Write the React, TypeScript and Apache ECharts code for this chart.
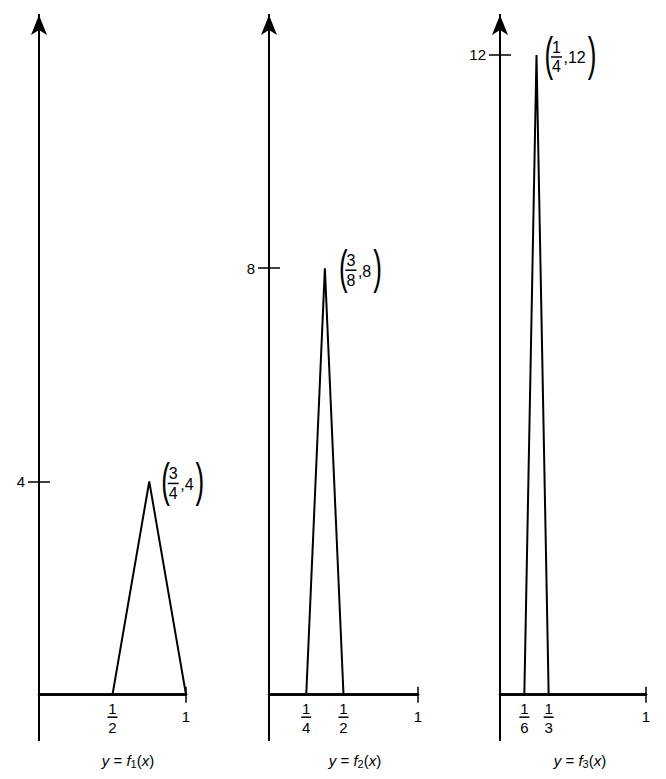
import React, { useEffect, useRef } from "react";
import * as echarts from "echarts";

// ---- data ----
const f1X = [0, 1 / 2, 3 / 4, 1];
const f1Y = [0, 0, 4, 0];
const f2X = [0, 1 / 4, 3 / 8, 1 / 2, 1];
const f2Y = [0, 0, 8, 0, 0];
const f3X = [0, 1 / 6, 1 / 4, 1 / 3, 1];
const f3Y = [0, 0, 12, 0, 0];

const yTickValues = [4, 8, 12];
const xEndTick = [1];
const xFractions1 = [[1, 2]];
const xFractions2 = [[1, 4], [1, 2]];
const xFractions3 = [[1, 6], [1, 3]];
const peakNumerators = ["3", "3", "1"];
const peakDenominators = ["4", "8", "4"];
const peakValueLabels = ["4", "8", "12"];
const captionIndices = ["1", "2", "3"];

const seriesX = [f1X, f2X, f3X];
const seriesY = [f1Y, f2Y, f3Y];
const xFractions = [xFractions1, xFractions2, xFractions3];

// ---- layout ----
const PANELS = [
  { left: 39, width: 147, annDx: 12, capX: 128 },
  { left: 269, width: 149, annDx: 14, capX: 355 },
  { left: 500, width: 146, annDx: 8, capX: 580 },
];
const GRID_TOP = 15;
const GRID_HEIGHT = 725;
const Y_MIN = -0.85;
const Y_MAX = 12.75;
const FONT = '"Liberation Sans", Arial, sans-serif';
const FS = 15;
const AFS = 16;

export default function App() {
  const ref = useRef<HTMLDivElement>(null);

  useEffect(() => {
    if (!ref.current) return;
    const chart = echarts.init(ref.current, undefined, { renderer: "svg" });

    const grid = PANELS.map((p) => ({
      left: p.left,
      width: p.width,
      top: GRID_TOP,
      height: GRID_HEIGHT,
      outerBoundsMode: "none",
    }));

    const xAxis: any[] = [];
    const yAxis: any[] = [];
    PANELS.forEach((_, i) => {
      const lineStyle = { color: "#000", width: 2 };
      const xLineStyle = { color: "#000", width: 2.5 };
      const tickStyle = { color: "#000", width: 1.5 };
      const lab = { color: "#000", fontSize: FS, fontFamily: FONT };
      xAxis.push({
        type: "value",
        gridIndex: i,
        min: 0,
        max: 1,
        position: "bottom",
        axisLine: { show: true, onZero: true, onZeroAxisIndex: 2 * i, lineStyle: xLineStyle },
        axisTick: { show: true, customValues: xEndTick, length: 8, lineStyle: tickStyle },
        axisLabel: { show: false },
        splitLine: { show: false },
      });
      xAxis.push({
        type: "value",
        gridIndex: i,
        min: 0,
        max: 1,
        position: "top",
        axisLine: { show: true, onZero: true, onZeroAxisIndex: 2 * i, lineStyle: xLineStyle },
        axisTick: { show: true, customValues: xEndTick, length: 8, lineStyle: tickStyle },
        axisLabel: { show: false },
        splitLine: { show: false },
      });
      yAxis.push({
        type: "value",
        gridIndex: i,
        min: Y_MIN,
        max: Y_MAX,
        position: "left",
        axisLine: {
          show: true,
          onZero: true,
          onZeroAxisIndex: 2 * i,
          symbol: ["none", "arrow"],
          symbolSize: [12, 20],
          lineStyle,
        },
        axisTick: { show: true, customValues: [yTickValues[i]], length: 11, lineStyle: tickStyle },
        axisLabel: { show: true, customValues: [yTickValues[i]], margin: 14, ...lab },
        splitLine: { show: false },
      });
      yAxis.push({
        type: "value",
        gridIndex: i,
        min: Y_MIN,
        max: Y_MAX,
        position: "right",
        axisLine: { show: true, onZero: true, onZeroAxisIndex: 2 * i, lineStyle },
        axisTick: { show: true, customValues: [yTickValues[i]], length: 11, lineStyle: tickStyle },
        axisLabel: { show: false },
        splitLine: { show: false },
      });
    });

    const series = PANELS.map((_, i) => ({
      type: "line",
      xAxisIndex: 2 * i,
      yAxisIndex: 2 * i,
      data: seriesX[i].map((x, k) => [x, seriesY[i][k]]),
      showSymbol: false,
      symbol: "none",
      clip: false,
      lineStyle: { color: "#000", width: 2 },
      z: 5,
    }));

    chart.setOption({
      animation: false,
      backgroundColor: "#fff",
      grid,
      xAxis,
      yAxis,
      series,
    });

    const canvas = document.createElement("canvas");
    const ctx = canvas.getContext("2d")!;
    ctx.font = `${AFS}px "Liberation Sans"`;

    const graphics: any[] = [];
    const txt = (x: number, y: number, text: string, align = "center", extra: any = {}) => ({
      type: "text",
      x,
      y,
      silent: true,
      ...extra.el,
      style: {
        text,
        fill: "#000",
        fontSize: FS,
        fontFamily: FONT,
        textAlign: align,
        textVerticalAlign: "middle",
        ...extra.style,
      },
    });
    const line = (x1: number, y1: number, x2: number, y2: number) => ({
      type: "line",
      silent: true,
      shape: { x1, y1, x2, y2 },
      style: { stroke: "#000", lineWidth: 1.5 },
    });
    const paren = (x: number, y: number, ch: string) =>
      txt(x, y, ch, "left", {
        el: { scaleY: 1.75 },
        style: { fontSize: 26 },
      });
    const aTxt = (x: number, y: number, text: string, align = "center") =>
      txt(x, y, text, align, { style: { fontSize: AFS } });

    PANELS.forEach((p, i) => {
      const finder = { xAxisIndex: 2 * i, yAxisIndex: 2 * i };
      const axisY = (chart.convertToPixel(finder, [0, 0]) as number[])[1];
      // x-axis end label
      xEndTick.forEach((v) => {
        const cx = (chart.convertToPixel(finder, [v, 0]) as number[])[0];
        graphics.push(txt(cx, axisY + 22, String(v)));
      });
      // x-axis fraction labels
      xFractions[i].forEach(([n, d]) => {
        const cx = (chart.convertToPixel(finder, [n / d, 0]) as number[])[0];
        graphics.push(txt(cx, axisY + 14, String(n)));
        graphics.push(line(cx - 5, axisY + 22.5, cx + 5, axisY + 22.5));
        graphics.push(txt(cx, axisY + 33, String(d)));
      });
      // peak annotation
      const ys = seriesY[i];
      let k = 0;
      ys.forEach((v, j) => {
        if (v > ys[k]) k = j;
      });
      const [px, py] = chart.convertToPixel(finder, [seriesX[i][k], ys[k]]) as number[];
      const L = px + p.annDx;
      const ay = py + 2;
      graphics.push(paren(L, ay - 3, "("));
      const fc = L + 12;
      graphics.push(aTxt(fc, ay - 9.5, peakNumerators[i]));
      graphics.push(line(fc - 5.5, ay, fc + 5.5, ay));
      graphics.push(aTxt(fc, ay + 10, peakDenominators[i]));
      const valText = "," + peakValueLabels[i];
      graphics.push(aTxt(fc + 7, ay + 1, valText, "left"));
      const w = ctx.measureText(valText).width;
      graphics.push(paren(fc + 7 + w + 2, ay - 3, ")"));
      // caption
      graphics.push({
        type: "text",
        x: p.capX,
        y: 760,
        silent: true,
        style: {
          text: `{i|y} = {i|f}{s|${captionIndices[i]}}({i|x})`,
          fill: "#000",
          fontSize: FS,
          fontFamily: FONT,
          textAlign: "center",
          textVerticalAlign: "middle",
          rich: {
            i: { fontStyle: "italic", fontSize: FS, fontFamily: FONT },
            s: { fontSize: 11, fontFamily: FONT, padding: [7, 0, 0, 0] },
          },
        },
      });
    });

    chart.setOption({ graphic: { elements: graphics } });

    return () => chart.dispose();
  }, []);

  return (
    <div
      ref={ref}
      style={{ position: "absolute", left: 0, top: 0, width: 666, height: 779 }}
    />
  );
}
